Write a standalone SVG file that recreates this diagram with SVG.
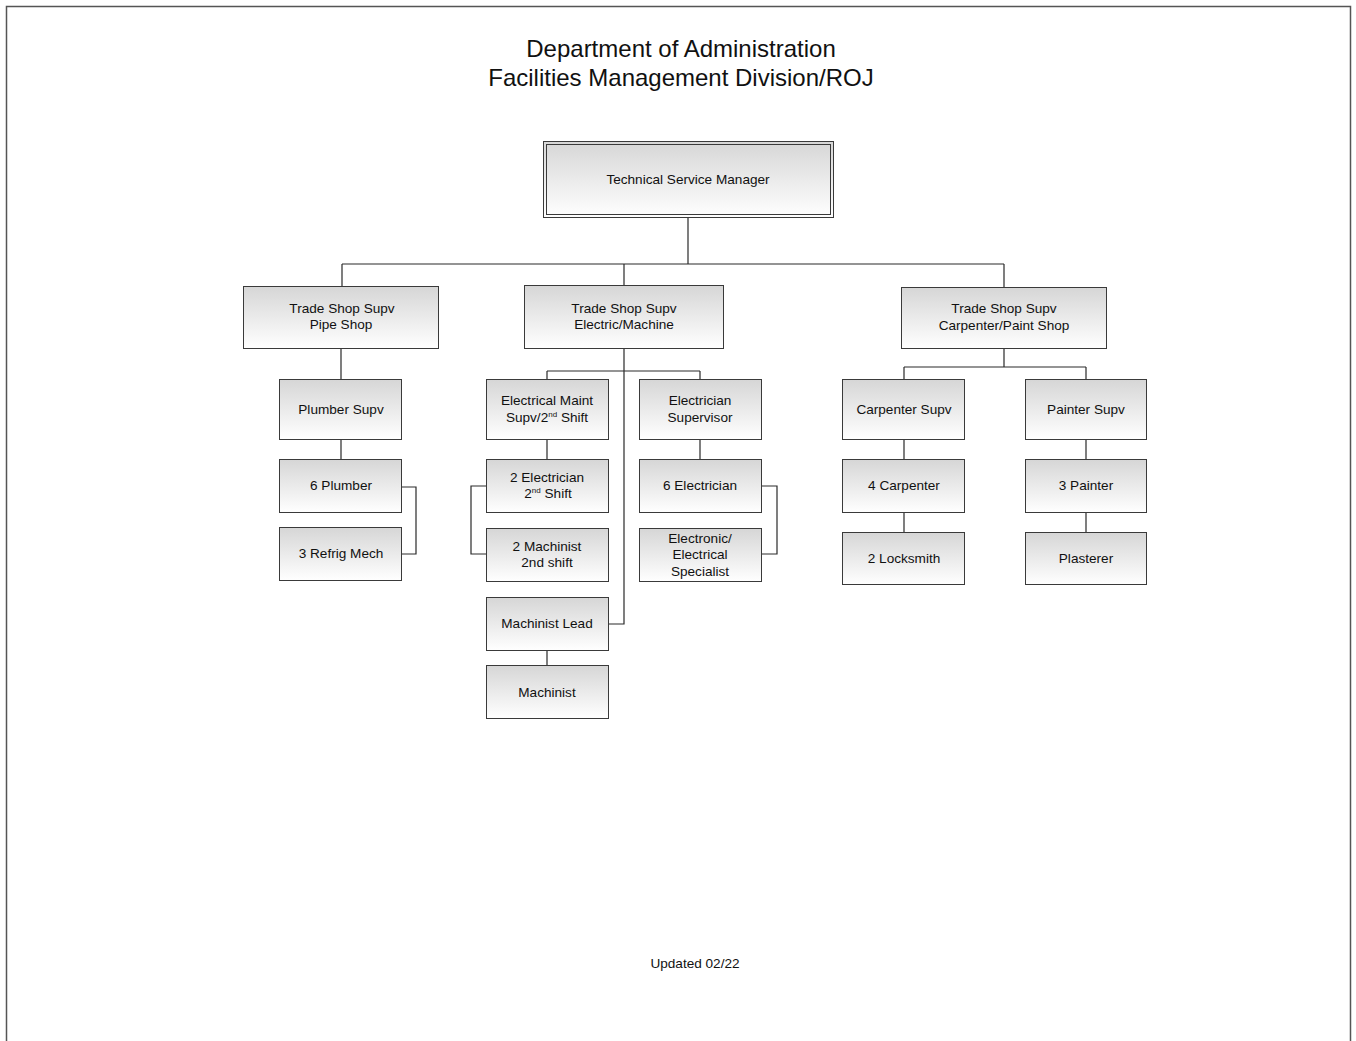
<svg xmlns="http://www.w3.org/2000/svg" width="1356" height="1041" viewBox="0 0 1356 1041">
  <defs>
    <linearGradient id="boxFill" x1="0" y1="0" x2="0" y2="1">
      <stop offset="0" stop-color="#d6d6d6"/>
      <stop offset="1" stop-color="#ffffff"/>
    </linearGradient>
    <style>
      .box { fill: url(#boxFill); stroke: #3a3a3a; stroke-width: 1; }
      .frame { fill: none; stroke: #3a3a3a; stroke-width: 1; }
      .lbl { font-family: "Liberation Sans", Arial, sans-serif; font-size: 13.6px; fill: #111; text-anchor: middle; }
      .title { font-family: "Liberation Sans", Arial, sans-serif; font-size: 24px; fill: #111; text-anchor: middle; }
      .conn { fill: none; stroke: #2a2a2a; stroke-width: 1.2; }
      .sup { font-size: 8px; }
    </style>
  </defs>
  <rect width="1356" height="1041" fill="#ffffff"/>
  <!-- page border -->
  <path d="M6.5,1041 V6.5 H1350.5 V1041" fill="none" stroke="#555" stroke-width="1.5"/>

  <text class="title" x="681" y="57">Department of Administration</text>
  <text class="title" x="681" y="86">Facilities Management Division/ROJ</text>

  <g id="connectors">
    <path class="conn" d="M688,218 V264 M342,264 H1004 M342,264 V286 M624,264 V285 M1004,264 V287"/>
    <!-- pipe shop -->
    <path class="conn" d="M341,348 V379 M341,440 V459 M402,487 H416 V554 H402"/>
    <!-- electric / machine -->
    <path class="conn" d="M624,348 V624 H609 M547,371 H700 M547,371 V379 M700,371 V379 M547,440 V459 M700,440 V459 M486,486 H471 V554 H486 M762,486 H777 V554 H762 M547,651 V665"/>
    <!-- carpenter / paint -->
    <path class="conn" d="M1004,348 V367 M904,367 H1086 M904,367 V379 M1086,367 V379 M904,440 V459 M1086,440 V459 M904,513 V532 M1086,513 V532"/>
  </g>

  <g id="tsm">
    <rect class="box" x="543.5" y="141.5" width="290" height="76"/>
    <rect class="frame" x="546.5" y="144.5" width="284" height="70"/>
    <text class="lbl" x="688" y="184">Technical Service Manager</text>
  </g>

  <g id="pipe-shop">
    <rect class="box" x="243.5" y="286.5" width="195" height="62"/>
    <text class="lbl" x="342" y="313">Trade Shop Supv</text>
    <text class="lbl" x="341" y="329">Pipe Shop</text>
  </g>
  <g id="electric-machine">
    <rect class="box" x="524.5" y="285.5" width="199" height="63"/>
    <text class="lbl" x="624" y="313">Trade Shop Supv</text>
    <text class="lbl" x="624" y="329">Electric/Machine</text>
  </g>
  <g id="carpenter-paint">
    <rect class="box" x="901.5" y="287.5" width="205" height="61"/>
    <text class="lbl" x="1004" y="313">Trade Shop Supv</text>
    <text class="lbl" x="1004" y="330">Carpenter/Paint Shop</text>
  </g>

  <g id="plumber-supv">
    <rect class="box" x="279.5" y="379.5" width="122" height="60"/>
    <text class="lbl" x="341" y="414">Plumber Supv</text>
  </g>
  <g id="plumber">
    <rect class="box" x="279.5" y="459.5" width="122" height="53"/>
    <text class="lbl" x="341" y="490">6 Plumber</text>
  </g>
  <g id="refrig-mech">
    <rect class="box" x="279.5" y="527.5" width="122" height="53"/>
    <text class="lbl" x="341" y="558">3 Refrig Mech</text>
  </g>

  <g id="elec-maint-supv">
    <rect class="box" x="486.5" y="379.5" width="122" height="60"/>
    <text class="lbl" x="547" y="405">Electrical Maint</text>
    <text class="lbl" x="547" y="422">Supv/2<tspan class="sup" dy="-5">nd</tspan><tspan dy="5"> Shift</tspan></text>
  </g>
  <g id="electrician-supervisor">
    <rect class="box" x="639.5" y="379.5" width="122" height="60"/>
    <text class="lbl" x="700" y="405">Electrician</text>
    <text class="lbl" x="700" y="422">Supervisor</text>
  </g>
  <g id="electrician-2nd">
    <rect class="box" x="486.5" y="459.5" width="122" height="53"/>
    <text class="lbl" x="547" y="482">2 Electrician</text>
    <text class="lbl" x="548" y="498">2<tspan class="sup" dy="-5">nd</tspan><tspan dy="5"> Shift</tspan></text>
  </g>
  <g id="machinist-2nd">
    <rect class="box" x="486.5" y="528.5" width="122" height="53"/>
    <text class="lbl" x="547" y="551">2 Machinist</text>
    <text class="lbl" x="547" y="567">2nd shift</text>
  </g>
  <g id="electrician">
    <rect class="box" x="639.5" y="459.5" width="122" height="53"/>
    <text class="lbl" x="700" y="490">6 Electrician</text>
  </g>
  <g id="specialist">
    <rect class="box" x="639.5" y="528.5" width="122" height="53"/>
    <text class="lbl" x="700" y="543">Electronic/</text>
    <text class="lbl" x="700" y="559">Electrical</text>
    <text class="lbl" x="700" y="576">Specialist</text>
  </g>
  <g id="machinist-lead">
    <rect class="box" x="486.5" y="597.5" width="122" height="53"/>
    <text class="lbl" x="547" y="628">Machinist Lead</text>
  </g>
  <g id="machinist">
    <rect class="box" x="486.5" y="665.5" width="122" height="53"/>
    <text class="lbl" x="547" y="697">Machinist</text>
  </g>

  <g id="carpenter-supv">
    <rect class="box" x="842.5" y="379.5" width="122" height="60"/>
    <text class="lbl" x="904" y="414">Carpenter Supv</text>
  </g>
  <g id="painter-supv">
    <rect class="box" x="1025.5" y="379.5" width="121" height="60"/>
    <text class="lbl" x="1086" y="414">Painter Supv</text>
  </g>
  <g id="carpenter">
    <rect class="box" x="842.5" y="459.5" width="122" height="53"/>
    <text class="lbl" x="904" y="490">4 Carpenter</text>
  </g>
  <g id="painter">
    <rect class="box" x="1025.5" y="459.5" width="121" height="53"/>
    <text class="lbl" x="1086" y="490">3 Painter</text>
  </g>
  <g id="locksmith">
    <rect class="box" x="842.5" y="532.5" width="122" height="52"/>
    <text class="lbl" x="904" y="563">2 Locksmith</text>
  </g>
  <g id="plasterer">
    <rect class="box" x="1025.5" y="532.5" width="121" height="52"/>
    <text class="lbl" x="1086" y="563">Plasterer</text>
  </g>

  <text class="lbl" x="695" y="968">Updated 02/22</text>
</svg>
